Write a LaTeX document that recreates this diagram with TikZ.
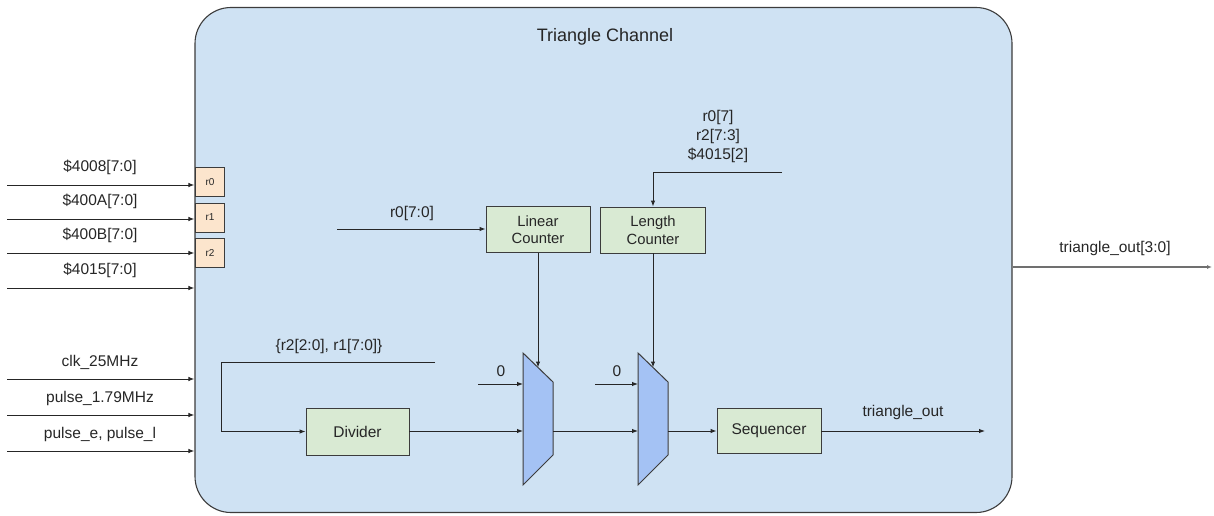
\documentclass[tikz,border=0pt]{standalone}
\usepackage{fontspec}
\setmainfont{Liberation Sans}
\usetikzlibrary{arrows.meta,calc}
\definecolor{chanfill}{HTML}{CFE2F3}
\definecolor{blockfill}{HTML}{D9EAD3}
\definecolor{regfill}{HTML}{FCE5CD}
\definecolor{muxfill}{HTML}{A4C2F4}
\definecolor{ink}{HTML}{262626}
\definecolor{edge}{HTML}{3C3C3C}
\definecolor{greywire}{HTML}{707070}
\begin{document}
\begin{tikzpicture}[x=1pt,y=-1pt,
  font=\fontsize{15.5}{18}\selectfont, text=ink,
  tip/.tip={Latex[length=6pt,width=4.5pt]},
  wire/.style={line width=1pt, draw=ink, -tip},
  outwire/.style={line width=1.3pt, draw=greywire, -{Latex[length=5pt,width=4pt]}},
  block/.style={draw=edge, line width=0.9pt, fill=blockfill, minimum height=46pt, inner sep=0pt, align=center},
  reg/.style={draw=edge, line width=0.8pt, fill=regfill, minimum width=29pt, minimum height=29pt, inner sep=0pt, font=\fontsize{10}{12}\selectfont},
  muxshape/.style={draw=edge, line width=1pt, fill=muxfill, line join=miter},
  lbl/.style={inner sep=0pt}]
\useasboundingbox (0,0) rectangle (1214,516);

% channel enclosure
\node[draw=edge, line width=1.1pt, fill=chanfill, rounded corners=36pt,
      minimum width=817pt, minimum height=505pt, inner sep=0pt] (ch) at (603.5,260) {};
\node[lbl, font=\fontsize{18}{20}\selectfont] (title) at (605,37) {Triangle Channel};

% register file
\node[reg] (r0) at (210,182) {r0};
\node[reg] (r1) at (210,217.5) {r1};
\node[reg] (r2) at (210,253) {r2};

% external inputs
\foreach \n/\y/\ly/\t in {a/185/167/{\$4008[7:0]}, b/219/201/{\$400A[7:0]}, c/253/235/{\$400B[7:0]},
                          d/288/270/{\$4015[7:0]}, e/379/362/{clk\_25MHz}, f/415/398/{pulse\_1.79MHz},
                          g/451/434/{pulse\_e, pulse\_l}}{
  \coordinate (in\n) at (7,\y);
  \node[lbl] (lab\n) at (100,\ly) {\t};
  \draw[wire] (in\n) -- (in\n -| ch.west);
}

% processing blocks
\node[block, minimum width=104pt, font=\fontsize{14.8}{17.5}\selectfont] (lin) at (538,229.5) {Linear\\Counter};
\node[block, minimum width=105pt, font=\fontsize{14.8}{17.5}\selectfont] (len) at (653,230) {Length\\Counter};
\node[block, minimum width=103pt, minimum height=47pt] (div) at (357.5,431.5) {Divider};
\node[block, minimum width=104pt, minimum height=45pt] (seq) at (769,430.5) {Sequencer};

% multiplexers
\coordinate (m1a) at (523,353); \coordinate (m1b) at (553,382);
\coordinate (m1c) at (553,455); \coordinate (m1d) at (523,485);
\coordinate (m2a) at (638,353); \coordinate (m2b) at (668,382);
\coordinate (m2c) at (668,455); \coordinate (m2d) at (638,485);
\draw[muxshape] (m1a) -- (m1b) -- (m1c) -- (m1d) -- cycle;
\draw[muxshape] (m2a) -- (m2b) -- (m2c) -- (m2d) -- cycle;
\coordinate (m1sel) at (538,367.5);
\coordinate (m2sel) at (653,367.5);
\coordinate (m1in) at (523,431); \coordinate (m1out) at (553,431);
\coordinate (m2in) at (638,431); \coordinate (m2out) at (668,431);

% register fields into the counters
\coordinate (linsrc) at (337,229);
\node[lbl] (linlab) at (412,213) {r0[7:0]};
\draw[wire] (linsrc) -- (linsrc -| lin.west);

\coordinate (lensrc) at (782,172);
\node[lbl, align=center, font=\fontsize{15.5}{19}\selectfont] (lenlab) at (718,136) {r0[7]\\r2[7:3]\\\$4015[2]};
\draw[wire] (lensrc) -- (lensrc -| len.north) -- (len.north);

% counters gate the multiplexers
\draw[wire] (lin.south) -- (m1sel);
\draw[wire] (len.south) -- (m2sel);

% constant zero inputs
\coordinate (z1) at (478,384); \coordinate (z2) at (595,384);
\node[lbl] (z1lab) at (501,371) {0};
\node[lbl] (z2lab) at (617,371) {0};
\draw[wire] (z1) -- (z1 -| m1a);
\draw[wire] (z2) -- (z2 -| m2a);

% divider reload value
\coordinate (divsrc) at (435,362);
\coordinate (divbend) at (221,362);
\node[lbl] (divlab) at (329,346) {\{r2[2:0], r1[7:0]\}};
\draw[wire] (divsrc) -- (divbend) -- (divbend |- div.west) -- (div.west);

% main data path
\draw[wire] (div.east) -- (div.east |- m1in) -- (m1in);
\draw[wire] (m1out) -- (m2in);
\draw[wire] (m2out) -- (m2out -| seq.west);
\coordinate (seqdst) at (985,431);
\node[lbl] (seqlab) at (903,412) {triangle\_out};
\draw[wire] (seq.east) -- (seq.east |- seqdst) -- (seqdst);

% channel output
\coordinate (outdst) at (1212,267);
\node[lbl] (outlab) at (1115,248) {triangle\_out[3:0]};
\draw[outwire] (outdst -| ch.east) -- (outdst);
\end{tikzpicture}
\end{document}
